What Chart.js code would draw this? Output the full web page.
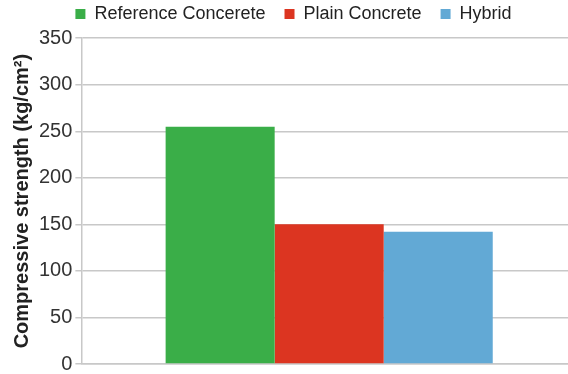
<!DOCTYPE html>
<html>
<head>
<meta charset="utf-8">
<script src="https://cdn.jsdelivr.net/npm/chart.js@4/dist/chart.umd.min.js"></script>
<style>
  html, body { margin: 0; padding: 0; background: #fff; overflow: hidden; }
  #wrap { width: 578px; height: 379px; }
</style>
</head>
<body>
<div id="wrap"><canvas id="strengthChart" width="578" height="379"></canvas></div>
<script>
// data
const categories = [''];
const seriesNames = ['Reference Concerete', 'Plain Concrete', 'Hybrid'];
const referenceValues = [255];
const plainValues = [150];
const hybridValues = [142];
const yTicks = [0, 50, 100, 150, 200, 250, 300, 350];

const colors = ['#3aae48', '#dc3521', '#62a9d5'];
const font = 'Liberation Sans, Arial, sans-serif';

const ctx = document.getElementById('strengthChart').getContext('2d');

const chart = new Chart(ctx, {
  type: 'bar',
  data: {
    labels: categories,
    datasets: [
      { label: seriesNames[0], data: referenceValues, backgroundColor: colors[0] },
      { label: seriesNames[1], data: plainValues, backgroundColor: colors[1] },
      { label: seriesNames[2], data: hybridValues, backgroundColor: colors[2] }
    ]
  },
  options: {
    responsive: false,
    animation: false,
    layout: { padding: { top: -14, bottom: 0, left: 10, right: 1 } },
    datasets: {
      bar: { categoryPercentage: 0.66, barPercentage: 1.0 }
    },
    scales: {
      y: {
        min: 0,
        max: 350,
        afterBuildTicks: (axis) => { axis.ticks = yTicks.map(v => ({ value: v })); },
        ticks: {
          color: '#333',
          font: { family: font, size: 20 },
          padding: 3
        },
        grid: { color: '#c8c8c8', lineWidth: 1.5, tickLength: 6 },
        border: { color: '#c8c8c8', width: 1.5 },
        title: {
          display: true,
          text: 'Compressive strength (kg/cm²)',
          color: '#222',
          font: { family: font, size: 20, weight: 'bold' },
          padding: { top: 0, bottom: 2 }
        }
      },
      x: {
        ticks: { display: false },
        grid: { display: false },
        border: { color: '#c8c8c8', width: 1.5 }
      }
    },
    plugins: {
      legend: {
        position: 'top',
        labels: {
          color: '#222',
          font: { family: font, size: 18 },
          boxWidth: 10,
          boxHeight: 10,
          padding: 19
        }
      },
      // empty title used only as a small gap between legend and plot
      title: {
        display: true,
        text: '',
        weight: 500,
        font: { size: 1 },
        padding: { top: 0, bottom: 4 }
      },
      tooltip: { enabled: false }
    }
  }
});
</script>
</body>
</html>
